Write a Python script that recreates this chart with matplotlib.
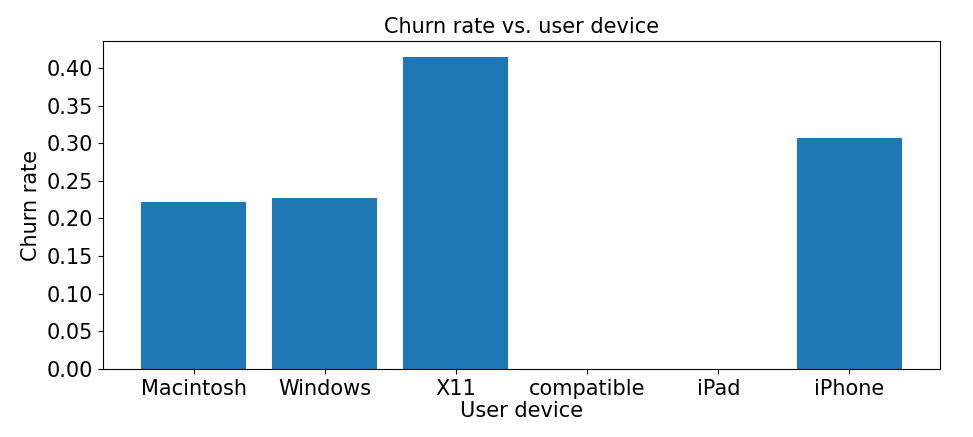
import matplotlib
matplotlib.use("Agg")
import matplotlib.pyplot as plt
from matplotlib.ticker import MultipleLocator

devices = ["Macintosh", "Windows", "X11", "compatible", "iPad", "iPhone"]
churn = [0.2214, 0.2273, 0.4152, 0.0, 0.0, 0.3069]

plt.rcParams['font.size'] = 15

fig = plt.figure(figsize=(9.73, 4.37), dpi=100)
ax = fig.add_axes([0.106, 0.156, 0.860, 0.750])
ax.bar(devices, churn)
ax.yaxis.set_major_locator(MultipleLocator(0.05))
ax.set_title("Churn rate vs. user device", fontsize=15)
ax.set_xlabel("User device", labelpad=2)
ax.set_ylabel("Churn rate")
fig.savefig("out.png", dpi=100)
